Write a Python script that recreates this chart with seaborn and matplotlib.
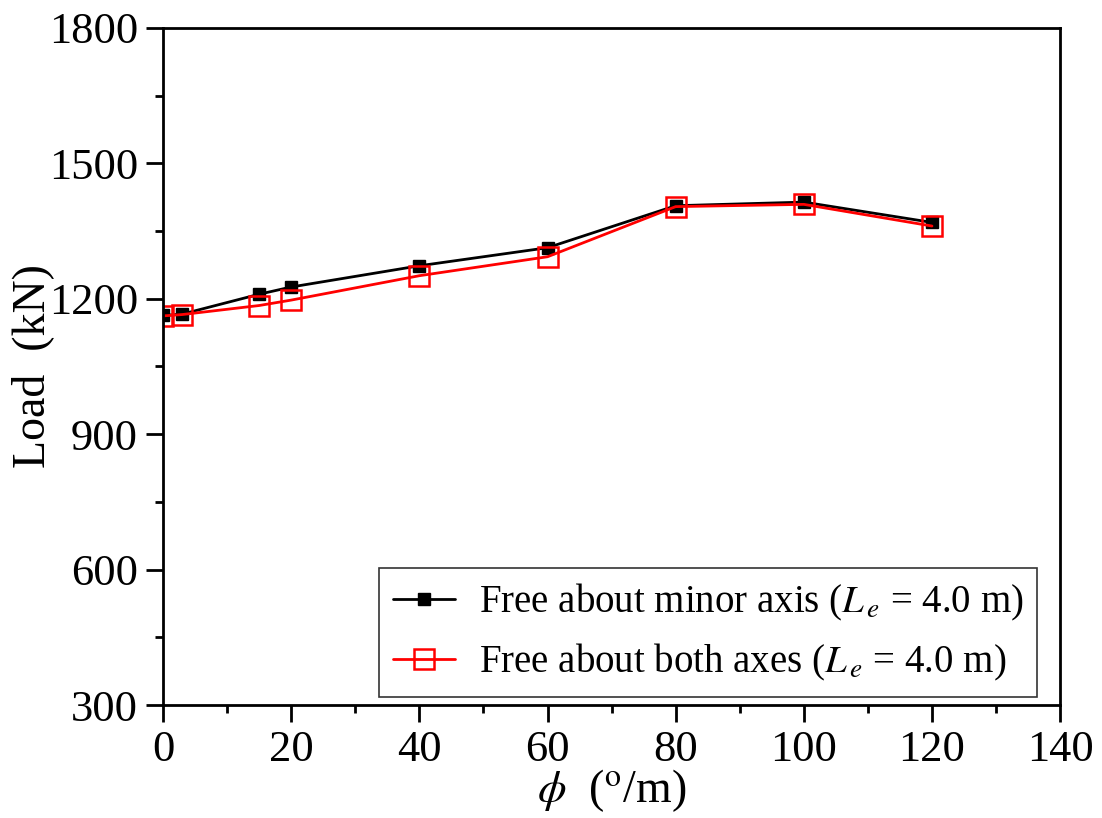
#For visualizing
import pandas as pd
import seaborn as sns
import matplotlib.pyplot as plt
from matplotlib.ticker import MultipleLocator

# data
phi = [0, 3, 15, 20, 40, 60, 80, 100, 120]
load_minor = [1163, 1166, 1210, 1226, 1273, 1313, 1406, 1414, 1369]
load_both = [1162, 1165, 1185, 1197, 1251, 1293, 1404, 1409, 1361]
label_minor = r'Free about minor axis ($L_{\,e}$ = 4.0 m)'
label_both = r'Free about both axes ($L_{\,e}$ = 4.0 m)'

sns.set_style("ticks")
plt.rcParams['font.family'] = ['Liberation Serif', 'DejaVu Serif']
plt.rcParams['mathtext.fontset'] = 'stix'
for key in ['text.color', 'axes.labelcolor', 'xtick.color', 'ytick.color']:
    plt.rcParams[key] = 'black'

df_minor = pd.DataFrame({'phi': phi, 'load': load_minor})
df_both = pd.DataFrame({'phi': phi, 'load': load_both})

fig = plt.figure(figsize=(11.02, 8.18), dpi=100)
ax = fig.add_axes([0.148, 0.138, 0.814, 0.828])

sns.lineplot(data=df_minor, x='phi', y='load', ax=ax, color='black', lw=2,
             marker='s', markersize=9, markerfacecolor='black',
             markeredgecolor='black', markeredgewidth=1, label=label_minor)
sns.lineplot(data=df_both, x='phi', y='load', ax=ax, color='red', lw=2,
             marker='s', markersize=15, markerfacecolor='none',
             markeredgecolor='red', markeredgewidth=1.8, label=label_both)

ax.set_xlim(0, 140)
ax.set_ylim(300, 1800)
ax.xaxis.set_major_locator(MultipleLocator(20))
ax.xaxis.set_minor_locator(MultipleLocator(10))
ax.yaxis.set_major_locator(MultipleLocator(300))
ax.yaxis.set_minor_locator(MultipleLocator(150))
ax.tick_params(which='major', length=12, width=2, labelsize=32, pad=6)
ax.tick_params(which='minor', length=6, width=2)
for s in ax.spines.values():
    s.set_linewidth(2)
    s.set_color('black')

ax.set_xlabel(r'$\phi$  ($^{\mathrm{o}}$/m)', fontsize=33, labelpad=-2)
ax.set_ylabel('Load  (kN)', fontsize=33, labelpad=-4)

leg = ax.legend(loc='lower right', bbox_to_anchor=(0.974, 0.012), fontsize=28,
                frameon=True, fancybox=False, edgecolor='black',
                handlelength=1.6, handletextpad=0.6, borderaxespad=0,
                borderpad=0.35, labelspacing=0.5)
leg.get_frame().set_linewidth(1.2)

plt.savefig('out.png', dpi=100)
